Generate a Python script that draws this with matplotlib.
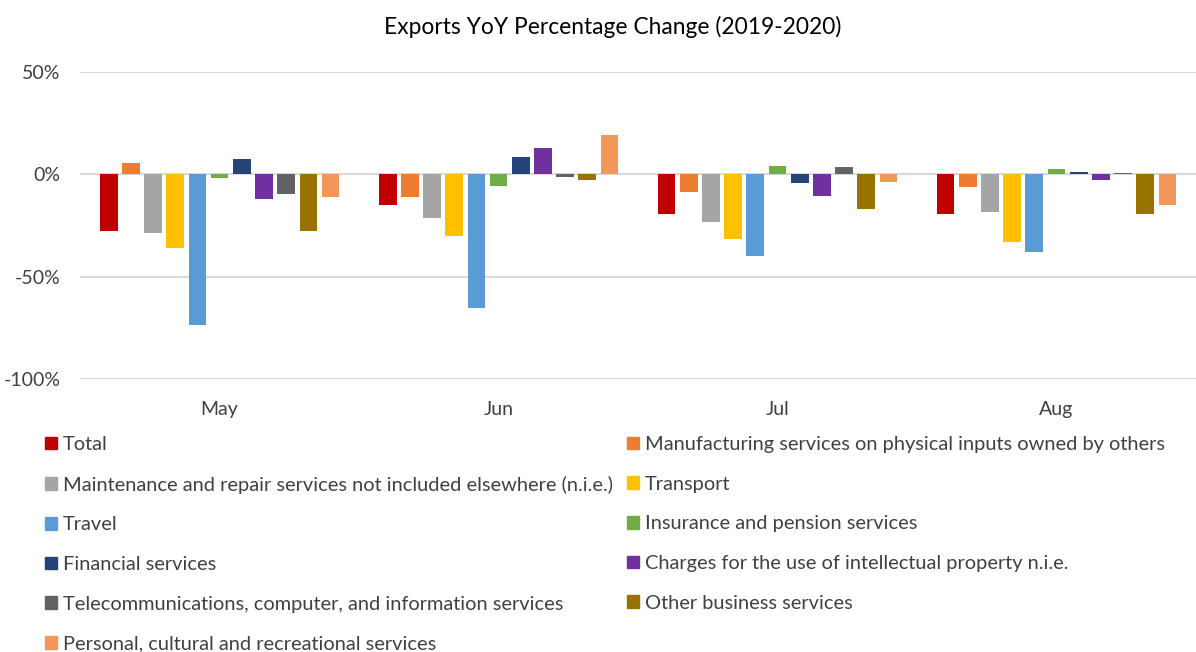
import numpy as np
import matplotlib
matplotlib.use("Agg")
from matplotlib import pyplot as plt
from matplotlib.patches import Patch

plt.rcParams['font.family'] = ['Lato', 'DejaVu Sans']

months = ['May', 'Jun', 'Jul', 'Aug']
series = [
    'Total',
    'Manufacturing services on physical inputs owned by others',
    'Maintenance and repair services not included elsewhere (n.i.e.)',
    'Transport',
    'Travel',
    'Insurance and pension services',
    'Financial services',
    'Charges for the use of intellectual property n.i.e.',
    'Telecommunications, computer, and information services',
    'Other business services',
    'Personal, cultural and recreational services',
]
colors = ['#C00000', '#ED7D31', '#A5A5A5', '#FFC000', '#5B9BD5', '#70AD47',
          '#264478', '#7030A0', '#636363', '#997300', '#F1975A']

total = [-27.6, -15.0, -19.3, -19.3]
manufacturing = [5.4, -10.9, -8.5, -6.0]
maintenance = [-28.8, -21.1, -23.2, -18.5]
transport = [-36.1, -30.2, -31.4, -33.0]
travel = [-73.7, -65.4, -39.9, -38.1]
insurance = [-2.0, -5.9, 4.1, 2.8]
financial = [7.7, 8.3, -4.4, 1.3]
intellectual = [-11.9, 13.1, -10.5, -2.9]
telecom = [-9.5, -1.3, 3.4, 0.6]
other_business = [-27.6, -2.6, -17.0, -19.3]
personal = [-11.3, 19.4, -3.8, -15.2]

values = [total, manufacturing, maintenance, transport, travel, insurance,
          financial, intellectual, telecom, other_business, personal]

fig = plt.figure(figsize=(11.96, 6.52), dpi=100)
ax = fig.add_axes([0.067, 0.4187, 0.933, 0.4709])

x = np.arange(len(months))
n = len(series)
slot = 0.875 / n
for i, (vals, c) in enumerate(zip(values, colors)):
    offs = (i - (n - 1) / 2) * slot
    ax.bar(x + offs, vals, width=slot * 0.8, color=c, zorder=3)

ax.set_xlim(-0.5, len(months) - 0.5)
ax.set_ylim(-100, 50)
ax.set_yticks([-100, -50, 0, 50])
ax.set_yticklabels(['-100%', '-50%', '0%', '50%'], fontsize=14, color='#404040')
ax.set_xticks(x)
ax.set_xticklabels(months, fontsize=14, color='#404040')
ax.tick_params(length=0, axis='y', pad=14)
ax.tick_params(length=0, axis='x', pad=16)
ax.grid(axis='y', color='#D9D9D9', linewidth=1.5, zorder=0)
for s in ax.spines.values():
    s.set_visible(False)

fig.text(0.512, 0.959, 'Exports YoY Percentage Change (2019-2020)',
         ha='center', va='center', fontsize=16.4, color='#000000')

order = [0, 2, 4, 6, 8, 10, 1, 3, 5, 7, 9]
handles = [Patch(color=colors[k]) for k in order]
labels = [series[k] for k in order]
fig.legend(handles, labels, loc='upper left', bbox_to_anchor=(0.0376, 0.331),
           ncol=2, frameon=False, fontsize=14.4, handlelength=0.6,
           handleheight=0.6, handletextpad=0.3, labelspacing=1.13,
           columnspacing=0.7, labelcolor='#404040', borderpad=0,
           borderaxespad=0)

fig.savefig('out.png', dpi=100)
